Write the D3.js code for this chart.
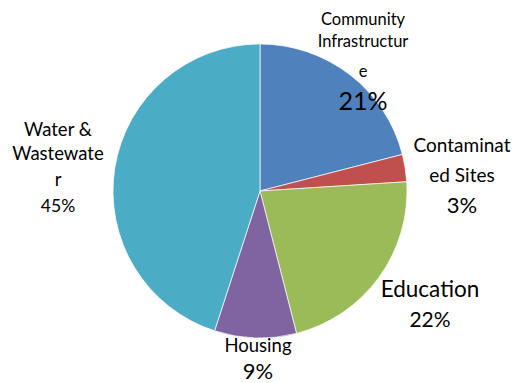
<!DOCTYPE html>
<html>
<head>
<meta charset="utf-8">
<script src="https://cdn.jsdelivr.net/npm/d3@7"></script>
<style>
  html, body { margin: 0; padding: 0; background: #fff; }
  svg { display: block; }
  text { font-family: Lato, "Open Sans", sans-serif; fill: #000; }
</style>
</head>
<body>
<svg id="chart" width="515" height="383"></svg>
<script>
// Funding share by sector (percent)
const categories = ["Community Infrastructure", "Contaminated Sites", "Education", "Housing", "Water & Wastewater"];
const values = [21, 3, 22, 9, 45];
// Label text as it wraps on the chart
const labelLines = [
  ["Community", "Infrastructur", "e"],
  ["Contaminat", "ed Sites"],
  ["Education"],
  ["Housing"],
  ["Water &", "Wastewate", "r"]
];
const colors = ["#4F81BD", "#C0504D", "#9BBB59", "#8064A2", "#4BACC6"];

const width = 515, height = 383;
const cx = 260, cy = 191, radius = 147;

const svg = d3.select("#chart");
const g = svg.append("g").attr("transform", `translate(${cx},${cy})`);

const pie = d3.pie().sort(null).value(d => d.value);
const arc = d3.arc().innerRadius(0).outerRadius(radius);

const data = categories.map((c, i) => ({ name: c, value: values[i], color: colors[i], lines: labelLines[i] }));
const arcs = pie(data);

g.selectAll("path.slice")
  .data(arcs)
  .join("path")
  .attr("class", "slice")
  .attr("d", arc)
  .attr("fill", d => d.data.color)
  .attr("stroke", "#fff")
  .attr("stroke-width", 0.7);

// Label placement: centre x, baselines of name lines, baseline of percent, font sizes
const labelLayout = {
  "Community Infrastructure": { x: 363, lines: [25, 47, 77], nameSize: 16.5, pct: 110, pctSize: 25 },
  "Contaminated Sites":       { x: 462, lines: [152, 182], nameSize: 19, pct: 213, pctSize: 22 },
  "Education":                { x: 430, lines: [297], nameSize: 22.5, pct: 327, pctSize: 21 },
  "Housing":                  { x: 258, lines: [352], nameSize: 18.5, pct: 379, pctSize: 22 },
  "Water & Wastewater":       { x: 58,  lines: [136, 160, 186], nameSize: 18.5, pct: 212, pctSize: 17.5 }
};

const labels = svg.append("g").attr("class", "labels");
arcs.forEach(a => {
  const L = labelLayout[a.data.name];
  const grp = labels.append("g");
  a.data.lines.forEach((line, j) => {
    grp.append("text")
      .attr("x", L.x)
      .attr("y", L.lines[j])
      .attr("text-anchor", "middle")
      .style("font-size", L.nameSize + "px")
      .text(line);
  });
  grp.append("text")
    .attr("x", L.x)
    .attr("y", L.pct)
    .attr("text-anchor", "middle")
    .style("font-size", L.pctSize + "px")
    .text(d3.format(".0%")(a.data.value / 100));
});
</script>
</body>
</html>
